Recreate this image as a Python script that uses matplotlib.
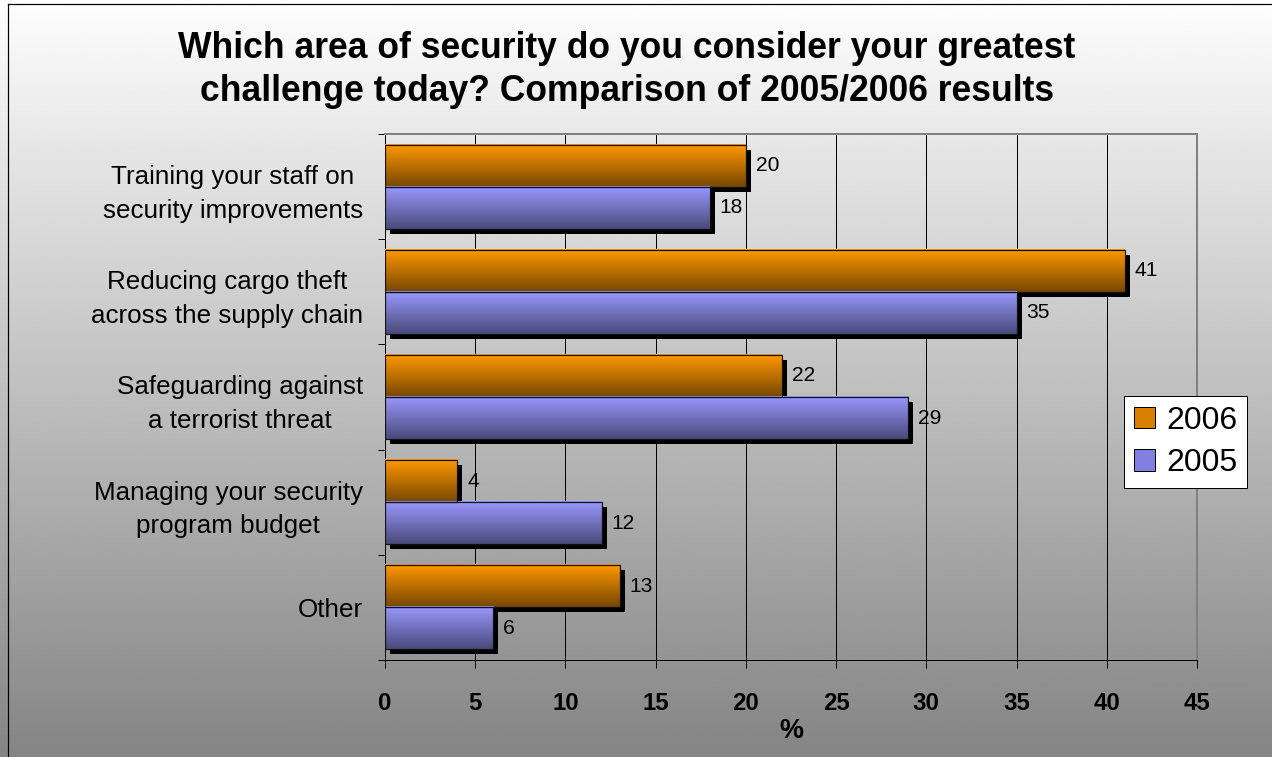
# -*- coding: utf-8 -*-
# Graphique : défis de sécurité, comparaison 2005 / 2006

import numpy as np
import matplotlib
matplotlib.use("Agg")
from matplotlib import pyplot as plt
from matplotlib import patheffects as pe
from matplotlib.lines import Line2D
from matplotlib.patches import Patch

plt.rcParams['font.family'] = ['Liberation Sans', 'DejaVu Sans']

# Données :
categories = ["Training your staff on\nsecurity improvements",
              "Reducing cargo theft\nacross the supply chain",
              "Safeguarding against\na terrorist threat",
              "Managing your security\nprogram budget",
              "Other"]
values_2006 = [20, 41, 22, 4, 13]
values_2005 = [18, 35, 29, 12, 6]
series = ["2006", "2005"]
x_ticks = [0, 5, 10, 15, 20, 25, 30, 35, 40, 45]
title_lines = ["Which area of security do you consider your greatest",
               "challenge today? Comparison of 2005/2006 results"]

W, H = 1272, 757
fig = plt.figure(figsize=(W/72., H/72.), dpi=72)

# Fond en dégradé blanc -> gris :
bg = fig.add_axes([0, 0, 1, 1], zorder=-10)
grad = np.linspace(0.995, 0.52, 256).reshape(-1, 1)
bg.imshow(grad, cmap='gray', vmin=0, vmax=1, aspect='auto', extent=(0, 1, 0, 1), origin='upper')
bg.set_axis_off()

# Bordure de la figure (gauche et haut seulement) :
fig.add_artist(Line2D([8./W, 8./W], [0, 1 - 4./H], transform=fig.transFigure, color='black', lw=1.2))
fig.add_artist(Line2D([8./W, 1], [1 - 4./H, 1 - 4./H], transform=fig.transFigure, color='black', lw=1.2))

# Titre :
fig.text(627./W, 1 - 58./H, title_lines[0], ha='center', va='baseline', fontsize=35.5, fontweight='bold')
fig.text(627./W, 1 - 101./H, title_lines[1], ha='center', va='baseline', fontsize=35.5, fontweight='bold')

ax = fig.add_axes([385./W, 1 - 660./H, 812./W, 526./H])
ax.set_facecolor('none')

y = np.arange(len(categories))
shadow = [pe.SimplePatchShadow(offset=(5, -5), shadow_rgbFace='black', alpha=1.0), pe.Normal()]

b06 = ax.barh(y - 0.2, values_2006, height=0.4, color='#ff9900', edgecolor='none', zorder=3, path_effects=shadow)
b05 = ax.barh(y + 0.2, values_2005, height=0.4, color='#9999ff', edgecolor='none', zorder=3, path_effects=shadow)

# Dégradé sur chaque barre :
g = np.linspace(0, 1, 64)[:, None, None]
for bars, top, bot in [(b06, np.array([1.0, 0.6, 0.0]), np.array([0.47, 0.28, 0.0])),
                       (b05, np.array([0.6, 0.6, 1.0]), np.array([0.29, 0.29, 0.48]))]:
	rgb = top * (1 - g) + bot * g
	for r in bars:
		x0, y0 = r.get_x(), r.get_y()
		w, h = r.get_width(), r.get_height()
		ax.imshow(rgb, extent=(x0, x0 + w, y0 + h, y0), origin='upper', aspect='auto',
		          interpolation='bilinear', zorder=4)

# Contours :
ax.barh(y - 0.2, values_2006, height=0.4, fill=False, edgecolor='#111111', lw=1.2, zorder=5)
ax.barh(y + 0.2, values_2005, height=0.4, fill=False, edgecolor='#111111', lw=1.2, zorder=5)

# Étiquettes de valeurs :
for bars, vals in [(b06, values_2006), (b05, values_2005)]:
	for r, v in zip(bars, vals):
		ax.annotate(str(v), xy=(r.get_width(), r.get_y() + r.get_height() / 2.), xytext=(10, 0),
		            textcoords='offset points', va='center', ha='left', fontsize=21)

# Axes :
ax.set_xlim(0, 45)
ax.set_ylim(len(categories) - 0.5, -0.5)
ax.set_xticks(x_ticks)
ax.tick_params(axis='x', direction='out', length=8, width=1, pad=24, labelsize=24)
for lbl in ax.get_xticklabels():
	lbl.set_fontweight('bold')
ax.xaxis.grid(True, color='black', lw=1)
ax.set_axisbelow(True)

ax.set_yticks(np.arange(-0.5, len(categories), 1.0))
ax.set_yticklabels([])
ax.set_yticks(y, categories, minor=True)
ax.tick_params(axis='y', which='major', direction='out', length=7, width=1)
ax.tick_params(axis='y', which='minor', length=0, pad=22, labelsize=26)
for lbl in ax.get_yticklabels(minor=True):
	lbl.set_multialignment('center')
	lbl.set_linespacing(1.5)

ax.set_xlabel("%", fontsize=27, fontweight='bold', labelpad=3)

for s in ['left', 'bottom']:
	ax.spines[s].set_color('black')
	ax.spines[s].set_linewidth(1)
for s in ['top', 'right']:
	ax.spines[s].set_color('#808080')
	ax.spines[s].set_linewidth(2)

# Légende :
handles = [Patch(facecolor='#d98000', edgecolor='black', lw=1),
           Patch(facecolor='#8080e0', edgecolor='black', lw=1)]
leg = ax.legend(handles, series, loc='center', bbox_to_anchor=(1185.5/W, 1 - 442./H),
                bbox_transform=fig.transFigure, fontsize=32, frameon=True, fancybox=False,
                shadow=False, framealpha=1, handlelength=0.66, handleheight=0.66,
                handletextpad=0.35, borderpad=0.3, labelspacing=0.4, borderaxespad=0)
leg.get_frame().set_edgecolor('black')
leg.get_frame().set_linewidth(1)
leg.set_zorder(10)

fig.savefig("out.png", dpi=72)
